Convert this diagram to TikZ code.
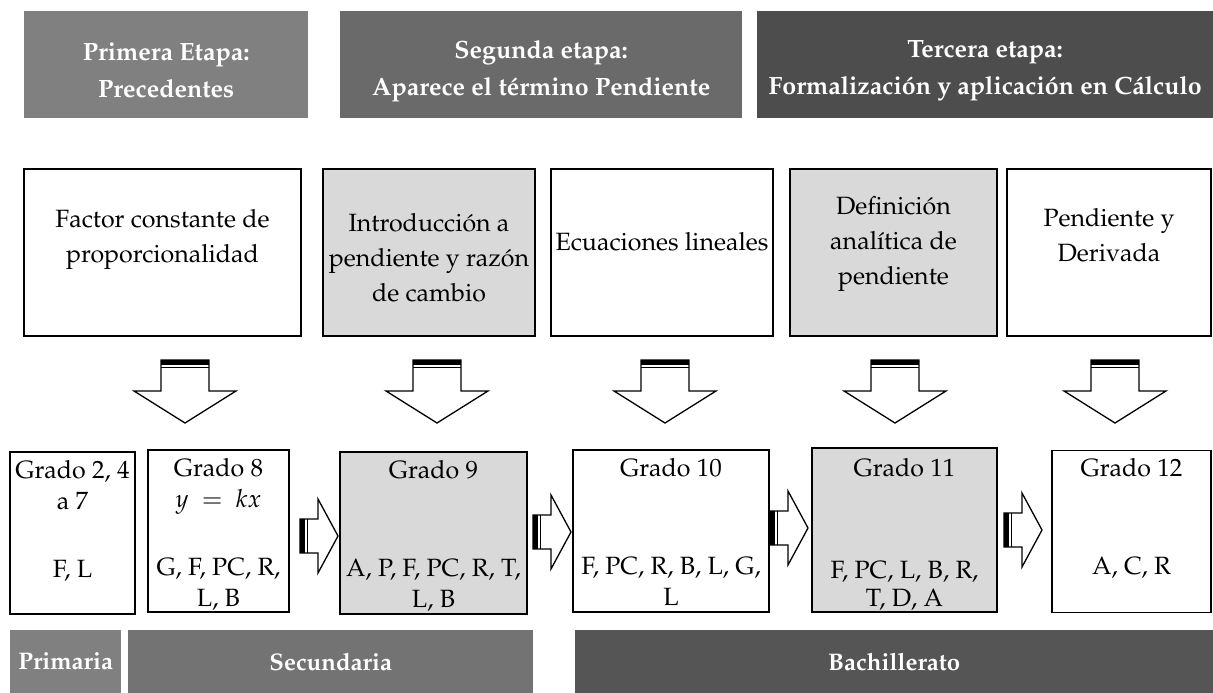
\documentclass[tikz,border=0pt]{standalone}
\usepackage[T1]{fontenc}
\usepackage{mathpazo}
\usetikzlibrary{positioning}

\definecolor{etapauno}{HTML}{808080}
\definecolor{etapados}{HTML}{6A6A6A}
\definecolor{etapatres}{HTML}{4D4D4D}
\definecolor{primaria}{HTML}{808080}
\definecolor{secundaria}{HTML}{737373}
\definecolor{bachiller}{HTML}{555555}
\definecolor{cajagris}{HTML}{D9D9D9}

\tikzset{
  blockdown/.pic={
    \draw[fill=white, line width=1.3pt] (-24,0) -- (24,0) -- (24,31) -- (51,31) -- (0,63) -- (-51,31) -- (-24,31) -- cycle;
    \fill (-24,0) rectangle (24,5);
    \draw[line width=1.3pt] (-24,7.5) -- (24,7.5);
  },
  blockright/.pic={
    \draw[fill=white, line width=1.3pt] (0,-17) -- (18,-17) -- (18,-37) -- (38,0) -- (18,37) -- (18,17) -- (0,17) -- cycle;
    \fill (0,-17) rectangle (5,17);
    \draw[line width=1.3pt] (7.5,-17) -- (7.5,17);
  }
}

\begin{document}
\begin{tikzpicture}[x=1pt, y=-1pt,
    etapa/.style={fill=#1, inner sep=0pt, anchor=north west, minimum height=107},
    etapatxt/.style={text=white, font=\bfseries\fontsize{25}{37}\selectfont, align=center, inner sep=0pt},
    nivel/.style={fill=#1, text=white, font=\bfseries\fontsize{24}{30}\selectfont, inner sep=0pt, anchor=north west, minimum height=63},
    tema/.style={draw, line width=1.8pt, fill=#1, minimum height=167, inner sep=0pt},
    tema/.default=white,
    grado/.style={draw, line width=1.8pt, fill=#1, minimum height=162, inner sep=0pt},
    grado/.default=white,
    texto/.style={align=center, inner sep=0pt, font=\fontsize{25}{35}\selectfont},
    gradotxt/.style={align=center, inner sep=0pt, anchor=north, yshift=-9pt, font=\fontsize{25}{31}\selectfont}]

    \useasboundingbox (0,0) rectangle (1213,693);

    % Etapas
    \node[etapa=etapauno, minimum width=284] (e1) at (24,11) {};
    \node[etapa=etapados, minimum width=402] (e2) at (340,11) {};
    \node[etapa=etapatres, minimum width=456] (e3) at (757,11) {};
    \node[etapatxt] (e1x) at ([yshift=-6]e1.center) {Primera Etapa:\\Precedentes};
    \node[etapatxt] (e2x) at ([yshift=-6]e2.center) {Segunda etapa:\\Aparece el término Pendiente};
    \node[etapatxt] (e3x) at ([yshift=-6]e3.center) {Tercera etapa:\\Formalización y aplicación en Cálculo};

    % Temas
    \node[tema, minimum width=277] (t1) at (162.5,252.5) {};
    \node[tema=cajagris, minimum width=212] (t2) at (429,252.5) {};
    \node[tema, minimum width=222] (t3) at (662,252.5) {};
    \node[tema=cajagris, minimum width=207] (t4) at (893.5,252.5) {};
    \node[tema, minimum width=204] (t5) at (1109,252.5) {};

    \node[texto] (t1x) at ([yshift=13]t1.center) {Factor constante de\\proporcionalidad};
    \node[texto] (t2x) at ([yshift=-5]t2.center) {Introducción a\\pendiente y razón\\de cambio};
    \node[texto] (t3x) at ([yshift=11]t3.center) {Ecuaciones lineales};
    \node[texto] (t4x) at ([yshift=9]t4.center) {Definición\\analítica de\\pendiente};
    \node[texto] (t5x) at ([yshift=17]t5.center) {Pendiente y\\Derivada};

    % Flechas hacia abajo
    \coordinate (d1) at (185,360);
    \coordinate (d2) at (437,360);
    \coordinate (d3) at (665,360);
    \coordinate (d4) at (895,360);
    \coordinate (d5) at (1115,360);
    \foreach \d in {d1,d2,d3,d4,d5}
        \pic at (\d) {blockdown};

    % Grados
    \node[grado, minimum width=125] (g1) at (72.5,533) {};
    \node[grado, minimum width=141] (g2) at (218.5,531) {};
    \node[grado=cajagris, minimum width=187] (g3) at (433.5,533) {};
    \node[grado, minimum width=196] (g4) at (671,531) {};
    \node[grado=cajagris, minimum width=185, minimum height=164] (g5) at (904.5,530) {};
    \node[grado, minimum width=159] (g6) at (1131.5,531.5) {};

    \node[gradotxt] (g1x) at (g1.north) {Grado 2, 4\\a 7\\[37pt]F, L};
    \node[gradotxt] (g2x) at (g2.north) {Grado 8\\$y\ =\ kx$\\[37pt]G, F, PC, R,\\L, B};
    \node[gradotxt] (g3x) at (g3.north) {Grado 9\\[67pt]A, P, F, PC, R, T,\\L, B};
    \node[gradotxt] (g4x) at (g4.north) {Grado 10\\[67pt]F, PC, R, B, L, G,\\L};
    \node[gradotxt] (g5x) at ([yshift=-2]g5.north) {Grado 11\\[71pt]F, PC, L, B, R,\\[-3pt]T, D, A};
    \node[gradotxt] (g6x) at (g6.north) {Grado 12\\[67pt]A, C, R};

    % Flechas entre grados
    \coordinate (r1) at (300,536);
    \coordinate (r2) at (533,532);
    \coordinate (r3) at (770,528);
    \coordinate (r4) at (1004,530);
    \foreach \r in {r1,r2,r3,r4}
        \pic at (\r) {blockright};

    % Niveles
    \node[nivel=primaria, minimum width=111] (n1) at (10,630) {Primaria};
    \node[nivel=secundaria, minimum width=405] (n2) at (128,630) {Secundaria};
    \node[nivel=bachiller, minimum width=638] (n3) at (575,630) {Bachillerato};
\end{tikzpicture}
\end{document}
